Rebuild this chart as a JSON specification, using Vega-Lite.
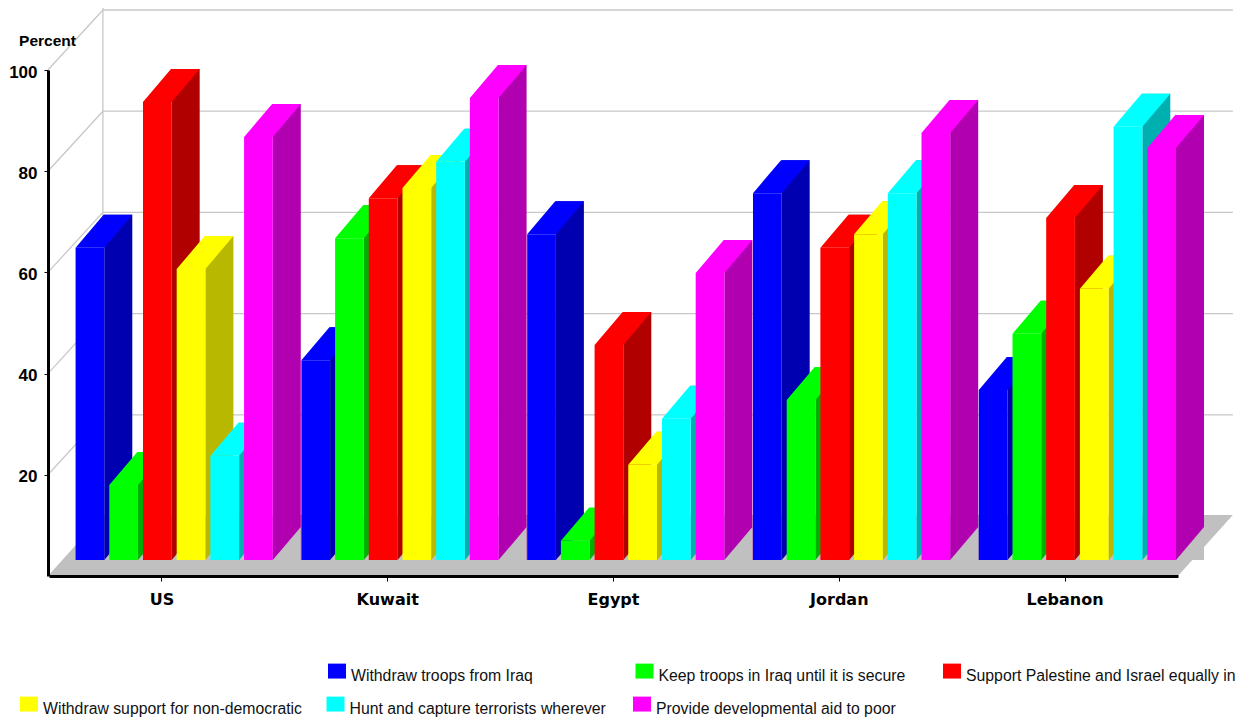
{
  "$schema": "https://vega.github.io/schema/vega-lite/v6.json",
  "width": 1129,
  "height": 506,
  "autosize": "none",
  "padding": {"left": 49, "top": 70, "right": 72, "bottom": 145},
  "background": "#ffffff",
  "view": {"stroke": null},
  "datasets": {
    "survey": [
      {"country": "US", "policy": "Withdraw troops from Iraq", "percent": 61.7},
      {"country": "US", "policy": "Keep troops in Iraq until it is secure", "percent": 14.8},
      {"country": "US", "policy": "Support Palestine and Israel equally in", "percent": 90.5},
      {"country": "US", "policy": "Withdraw support for non-democratic", "percent": 57.5},
      {"country": "US", "policy": "Hunt and capture terrorists wherever", "percent": 20.6},
      {"country": "US", "policy": "Provide developmental aid to poor", "percent": 83.6},
      {"country": "Kuwait", "policy": "Withdraw troops from Iraq", "percent": 39.5},
      {"country": "Kuwait", "policy": "Keep troops in Iraq until it is secure", "percent": 63.6},
      {"country": "Kuwait", "policy": "Support Palestine and Israel equally in", "percent": 71.5},
      {"country": "Kuwait", "policy": "Withdraw support for non-democratic", "percent": 73.5},
      {"country": "Kuwait", "policy": "Hunt and capture terrorists wherever", "percent": 78.7},
      {"country": "Kuwait", "policy": "Provide developmental aid to poor", "percent": 91.3},
      {"country": "Egypt", "policy": "Withdraw troops from Iraq", "percent": 64.4},
      {"country": "Egypt", "policy": "Keep troops in Iraq until it is secure", "percent": 3.8},
      {"country": "Egypt", "policy": "Support Palestine and Israel equally in", "percent": 42.5},
      {"country": "Egypt", "policy": "Withdraw support for non-democratic", "percent": 18.8},
      {"country": "Egypt", "policy": "Hunt and capture terrorists wherever", "percent": 27.9},
      {"country": "Egypt", "policy": "Provide developmental aid to poor", "percent": 56.7},
      {"country": "Jordan", "policy": "Withdraw troops from Iraq", "percent": 72.5},
      {"country": "Jordan", "policy": "Keep troops in Iraq until it is secure", "percent": 31.6},
      {"country": "Jordan", "policy": "Support Palestine and Israel equally in", "percent": 61.7},
      {"country": "Jordan", "policy": "Withdraw support for non-democratic", "percent": 64.4},
      {"country": "Jordan", "policy": "Hunt and capture terrorists wherever", "percent": 72.5},
      {"country": "Jordan", "policy": "Provide developmental aid to poor", "percent": 84.4},
      {"country": "Lebanon", "policy": "Withdraw troops from Iraq", "percent": 33.6},
      {"country": "Lebanon", "policy": "Keep troops in Iraq until it is secure", "percent": 44.7},
      {"country": "Lebanon", "policy": "Support Palestine and Israel equally in", "percent": 67.6},
      {"country": "Lebanon", "policy": "Withdraw support for non-democratic", "percent": 53.6},
      {"country": "Lebanon", "policy": "Hunt and capture terrorists wherever", "percent": 85.6},
      {"country": "Lebanon", "policy": "Provide developmental aid to poor", "percent": 81.4}
    ],
    "gridTicks": [
      {"country": "US", "percent": 20},
      {"country": "US", "percent": 40},
      {"country": "US", "percent": 60},
      {"country": "US", "percent": 80},
      {"country": "US", "percent": 100}
    ],
    "origin": [
      {"country": "US", "percent": 0}
    ]
  },
  "resolve": {"scale": {"color": "independent"}},
  "encoding": {
    "x": {
      "field": "country",
      "type": "nominal",
      "sort": null,
      "scale": {"domain": ["US", "Kuwait", "Egypt", "Jordan", "Lebanon"], "paddingInner": 0.1045, "paddingOuter": 0.0522},
      "axis": {
        "title": null,
        "zindex": 2,
        "labelAngle": 0,
        "labelFont": "DejaVu Sans",
        "labelFontWeight": "bold",
        "labelFontSize": 16,
        "labelColor": "#000000",
        "labelPadding": 10,
        "tickColor": "#000000",
        "tickSize": 5,
        "tickWidth": 1,
        "domainColor": "#000000",
        "domainWidth": 3,
        "grid": false
      }
    },
    "y": {
      "field": "percent",
      "type": "quantitative",
      "stack": null,
      "scale": {"domain": [0, 100], "nice": false},
      "axis": {
        "values": [20, 40, 60, 80, 100],
        "title": "Percent",
        "titleAngle": 0,
        "titleX": -1,
        "titleY": -30,
        "titleAlign": "center",
        "titleBaseline": "middle",
        "titleFont": "Liberation Sans",
        "titleFontWeight": "bold",
        "titleFontSize": 15.5,
        "titleColor": "#000000",
        "zindex": 2,
        "offset": 1,
        "labelFont": "Liberation Sans",
        "labelFontWeight": "bold",
        "labelFontSize": 17,
        "labelColor": "#000000",
        "labelPadding": 7,
        "labelOffset": 2,
        "tickColor": "#000000",
        "tickSize": 4,
        "tickWidth": 1,
        "domainColor": "#000000",
        "domainWidth": 3,
        "grid": false
      }
    }
  },
  "layer": [
    {
      "data": {"name": "gridTicks"},
      "mark": {"type": "point", "filled": false, "opacity": 1, "size": 4, "stroke": "#c8c8c8", "strokeWidth": 1.3, "shape": "M-114 0L-59 -60H1071"}
    },
    {
      "data": {"name": "origin"},
      "mark": {"type": "point", "filled": false, "opacity": 1, "size": 4, "stroke": "#c8c8c8", "strokeWidth": 1.3, "shape": "M-59 -568V-60"}
    },
    {
      "data": {"name": "origin"},
      "mark": {"type": "point", "filled": true, "opacity": 1, "size": 4, "fill": "#c0c0c0", "shape": "M-114 0H1016L1071 -61H-59Z"}
    },
    {
      "data": {"name": "survey"},
      "resolve": {"scale": {"color": "independent", "xOffset": "independent"}},
      "layer": [
        {
          "mark": {"type": "bar", "width": 28, "yOffset": -49, "y2Offset": -16},
          "encoding": {
            "xOffset": {
              "field": "policy",
              "type": "nominal",
              "sort": null,
              "scale": {
                "type": "band",
                "domain": ["Withdraw troops from Iraq", "Keep troops in Iraq until it is secure", "Support Palestine and Israel equally in", "Withdraw support for non-democratic", "Hunt and capture terrorists wherever", "Provide developmental aid to poor"],
                "range": [40.65, 242.85],
                "paddingInner": 0.148,
                "paddingOuter": 0.074
              }
            },
            "y2": {"datum": 0},
            "color": {
              "field": "policy",
              "type": "nominal",
              "legend": null,
              "scale": {
                "domain": ["Withdraw troops from Iraq", "Keep troops in Iraq until it is secure", "Support Palestine and Israel equally in", "Withdraw support for non-democratic", "Hunt and capture terrorists wherever", "Provide developmental aid to poor"],
                "range": ["#0000b0", "#00b000", "#b00000", "#b8b800", "#00b0b0", "#b000b0"]
              }
            }
          }
        },
        {
          "mark": {"type": "point", "filled": true, "opacity": 1, "size": 4, "fill": "#c0c0c0", "yOffset": -16, "shape": "M14.35 0H42.35V-33Z"},
          "encoding": {
            "xOffset": {
              "field": "policy",
              "type": "nominal",
              "sort": null,
              "scale": {
                "type": "band",
                "domain": ["Withdraw troops from Iraq", "Keep troops in Iraq until it is secure", "Support Palestine and Israel equally in", "Withdraw support for non-democratic", "Hunt and capture terrorists wherever", "Provide developmental aid to poor"],
                "range": [12.3, 214.5],
                "paddingInner": 0.148,
                "paddingOuter": 0.074
              }
            },
            "y": {"datum": 0}
          }
        },
        {
          "mark": {"type": "point", "filled": true, "opacity": 1, "size": 4, "yOffset": -16, "shape": "M-14.35 0H14.35L42.35 -33H13.65Z"},
          "encoding": {
            "xOffset": {
              "field": "policy",
              "type": "nominal",
              "sort": null,
              "scale": {
                "type": "band",
                "domain": ["Withdraw troops from Iraq", "Keep troops in Iraq until it is secure", "Support Palestine and Israel equally in", "Withdraw support for non-democratic", "Hunt and capture terrorists wherever", "Provide developmental aid to poor"],
                "range": [12.3, 214.5],
                "paddingInner": 0.148,
                "paddingOuter": 0.074
              }
            },
            "color": {
              "field": "policy",
              "type": "nominal",
              "legend": null,
              "scale": {
                "domain": ["Withdraw troops from Iraq", "Keep troops in Iraq until it is secure", "Support Palestine and Israel equally in", "Withdraw support for non-democratic", "Hunt and capture terrorists wherever", "Provide developmental aid to poor"],
                "range": ["#0000ff", "#00ff00", "#ff0000", "#ffff00", "#00ffff", "#ff00ff"]
              }
            }
          }
        },
        {
          "transform": [{"filter": {"field": "policy", "oneOf": ["Withdraw troops from Iraq", "Keep troops in Iraq until it is secure", "Support Palestine and Israel equally in"]}}],
          "mark": {"type": "bar", "yOffset": -16, "y2Offset": -16},
          "encoding": {
            "xOffset": {
              "field": "policy",
              "type": "nominal",
              "sort": null,
              "scale": {
                "type": "band",
                "domain": ["Withdraw troops from Iraq", "Keep troops in Iraq until it is secure", "Support Palestine and Israel equally in", "Withdraw support for non-democratic", "Hunt and capture terrorists wherever", "Provide developmental aid to poor"],
                "range": [12.3, 214.5],
                "paddingInner": 0.148,
                "paddingOuter": 0.074
              }
            },
            "y2": {"datum": 0},
            "color": {
              "field": "policy",
              "type": "nominal",
              "scale": {
                "domain": ["Withdraw troops from Iraq", "Keep troops in Iraq until it is secure", "Support Palestine and Israel equally in"],
                "range": ["#0000ff", "#00ff00", "#ff0000"]
              },
              "legend": {
                "title": null,
                "orient": "none",
                "legendX": 279,
                "legendY": 590,
                "padding": 0,
                "columns": 3,
                "gridAlign": "all",
                "columnPadding": 14.5,
                "symbolType": "M-1 -0.61H1V1.05H-1Z",
                "symbolSize": 324,
                "symbolStrokeWidth": 0,
                "labelFont": "Liberation Sans",
                "labelFontSize": 15.8,
                "labelColor": "#111111",
                "labelLimit": 400,
                "labelOffset": 5,
                "labelBaseline": "top"
              }
            }
          }
        },
        {
          "transform": [{"filter": {"field": "policy", "oneOf": ["Withdraw support for non-democratic", "Hunt and capture terrorists wherever", "Provide developmental aid to poor"]}}],
          "mark": {"type": "bar", "yOffset": -16, "y2Offset": -16},
          "encoding": {
            "xOffset": {
              "field": "policy",
              "type": "nominal",
              "sort": null,
              "scale": {
                "type": "band",
                "domain": ["Withdraw troops from Iraq", "Keep troops in Iraq until it is secure", "Support Palestine and Israel equally in", "Withdraw support for non-democratic", "Hunt and capture terrorists wherever", "Provide developmental aid to poor"],
                "range": [12.3, 214.5],
                "paddingInner": 0.148,
                "paddingOuter": 0.074
              }
            },
            "y2": {"datum": 0},
            "color": {
              "field": "policy",
              "type": "nominal",
              "scale": {
                "domain": ["Withdraw support for non-democratic", "Hunt and capture terrorists wherever", "Provide developmental aid to poor"],
                "range": ["#ffff00", "#00ffff", "#ff00ff"]
              },
              "legend": {
                "title": null,
                "orient": "none",
                "legendX": -29,
                "legendY": 623,
                "padding": 0,
                "columns": 3,
                "gridAlign": "all",
                "columnPadding": 24.5,
                "symbolType": "M-1 -0.61H1V1.05H-1Z",
                "symbolSize": 324,
                "symbolStrokeWidth": 0,
                "labelFont": "Liberation Sans",
                "labelFontSize": 15.8,
                "labelColor": "#111111",
                "labelLimit": 400,
                "labelOffset": 5,
                "labelBaseline": "top"
              }
            }
          }
        }
      ]
    }
  ]
}
